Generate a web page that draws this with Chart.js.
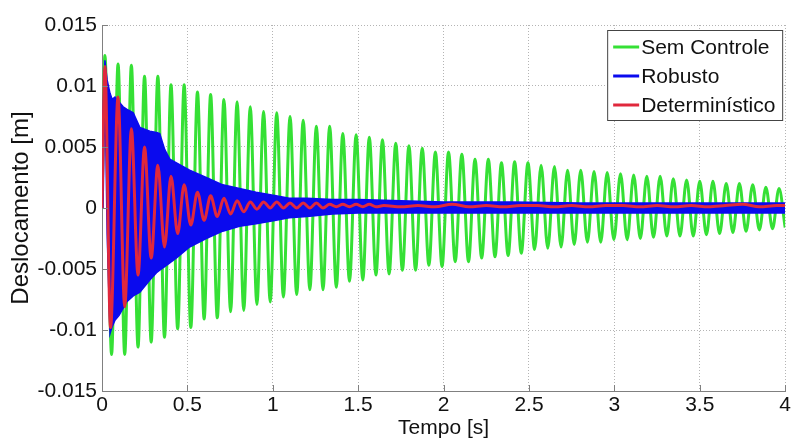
<!DOCTYPE html>
<html>
<head>
<meta charset="utf-8">
<title>Deslocamento x Tempo</title>
<script src="https://cdn.jsdelivr.net/npm/chart.js"></script>
<style>
  html, body { margin: 0; padding: 0; background: #fff; }
  canvas { display: block; }
</style>
</head>
<body>
<canvas id="deslocChart" width="793" height="441"></canvas>
<script>
// Axis ticks
const xTicks = [0, 0.5, 1, 1.5, 2, 2.5, 3, 3.5, 4];
const yTicks = [-0.015, -0.01, -0.005, 0, 0.005, 0.01, 0.015];

// Legend names and colours
const seriesNames = ['Sem Controle', 'Robusto', 'Determinístico'];
const seriesColors = ['#35e035', '#0a0aee', '#e0283c'];

// Sem Controle: peaks and valleys
const semCtrlPeakT = [0.017, 0.094, 0.172, 0.249, 0.327, 0.404, 0.481, 0.559, 0.636, 0.714,
  0.791, 0.868, 0.946, 1.023, 1.101, 1.178, 1.255, 1.333, 1.410, 1.488,
  1.565, 1.642, 1.720, 1.797, 1.875, 1.952, 2.029, 2.107, 2.184, 2.262,
  2.339, 2.416, 2.494, 2.571, 2.649, 2.726, 2.803, 2.881, 2.958, 3.036,
  3.113, 3.190, 3.268, 3.345, 3.423, 3.500, 3.577, 3.655, 3.732, 3.810,
  3.887, 3.964];
const semCtrlPeakY = [0.0125, 0.0118, 0.0117, 0.0108, 0.0108, 0.0101, 0.0101, 0.0095, 0.0093, 0.0089,
  0.0087, 0.0083, 0.0079, 0.0078, 0.0075, 0.0072, 0.0067, 0.0067, 0.0061, 0.0060,
  0.0058, 0.0056, 0.0053, 0.0051, 0.0049, 0.0046, 0.0046, 0.0044, 0.0040, 0.0040,
  0.0037, 0.0038, 0.0037, 0.0035, 0.0034, 0.0031, 0.0031, 0.0030, 0.0029, 0.0028,
  0.0027, 0.0026, 0.0026, 0.0024, 0.0023, 0.0022, 0.0022, 0.0020, 0.0020, 0.0019,
  0.0017, 0.0016];
const semCtrlValeT = [0.056, 0.133, 0.211, 0.288, 0.366, 0.443, 0.520, 0.598, 0.675, 0.753,
  0.830, 0.907, 0.985, 1.062, 1.140, 1.217, 1.294, 1.372, 1.449, 1.527,
  1.604, 1.681, 1.759, 1.836, 1.914, 1.991, 2.068, 2.146, 2.223, 2.301,
  2.378, 2.455, 2.533, 2.610, 2.688, 2.765, 2.842, 2.920, 2.997, 3.075,
  3.152, 3.229, 3.307, 3.384, 3.462, 3.539, 3.616, 3.694, 3.771, 3.849,
  3.926, 4.000];
const semCtrlValeY = [-0.0120, -0.0120, -0.0114, -0.0110, -0.0106, -0.0099, -0.0098, -0.0091, -0.0090, -0.0085,
  -0.0084, -0.0079, -0.0077, -0.0073, -0.0071, -0.0067, -0.0067, -0.0065, -0.0060, -0.0059,
  -0.0055, -0.0054, -0.0051, -0.0051, -0.0047, -0.0048, -0.0044, -0.0044, -0.0041, -0.0040,
  -0.0039, -0.0037, -0.0034, -0.0033, -0.0032, -0.0030, -0.0028, -0.0028, -0.0026, -0.0026,
  -0.0025, -0.0024, -0.0023, -0.0023, -0.0023, -0.0022, -0.0021, -0.0020, -0.0019, -0.0018,
  -0.0017, -0.0016];

// Robusto: dense oscillation, drawn as its upper and lower envelope
const blueT = [0, 0.006, 0.017, 0.030, 0.047, 0.060, 0.076, 0.100, 0.124, 0.144,
  0.183, 0.222, 0.280, 0.319, 0.338, 0.367, 0.397, 0.436, 0.513, 0.610,
  0.707, 0.805, 0.902, 1.019, 1.096, 1.200, 1.350, 1.500, 1.750, 2.000,
  2.400, 2.800, 3.200, 3.600, 4.000];
const blueHi = [0, 0.0080, 0.0121, 0.0105, 0.0094, 0.0089, 0.0091, 0.0087, 0.0083, 0.0081,
  0.0078, 0.0066, 0.0063, 0.0062, 0.0061, 0.0048, 0.0040, 0.0037, 0.0031, 0.0025,
  0.0019, 0.0016, 0.0013, 0.0010, 0.0008, 0.0008, 0.0007, 0.0007, 0.0006, 0.0005,
  0.0005, 0.0004, 0.0004, 0.0004, 0.0004];
const blueLo = [0, 0.0000, 0.0100, -0.0020, -0.0103, -0.0097, -0.0092, -0.0088, -0.0082, -0.0077,
  -0.0072, -0.0069, -0.0059, -0.0053, -0.0051, -0.0048, -0.0045, -0.0041, -0.0032, -0.0025,
  -0.0019, -0.0015, -0.0013, -0.0010, -0.0008, -0.0007, -0.0005, -0.0004, -0.0004, -0.0004,
  -0.0004, -0.0004, -0.0004, -0.0004, -0.0004];

// Determinístico: peaks, valleys, then the small tail
const redPeakT = [0.017, 0.094, 0.172, 0.249, 0.327, 0.404, 0.481, 0.559, 0.636, 0.714,
  0.791, 0.868, 0.946, 1.023, 1.101, 1.178, 1.255, 1.333, 1.410, 1.488, 1.565];
const redPeakY = [0.0116, 0.0091, 0.0065, 0.0050, 0.0035, 0.0026, 0.0019, 0.0013, 0.0010, 0.0008,
  0.0006, 0.0005, 0.0005, 0.0005, 0.0004, 0.0004, 0.0004, 0.0003, 0.0003, 0.0003, 0.0003];
const redValeT = [0.050, 0.133, 0.211, 0.288, 0.366, 0.443, 0.520, 0.598, 0.675, 0.753,
  0.830, 0.907, 0.985, 1.062, 1.140, 1.217, 1.294, 1.372, 1.449, 1.527, 1.604];
const redValeY = [-0.0098, -0.0081, -0.0055, -0.0041, -0.0032, -0.0021, -0.0014, -0.0010, -0.0007, -0.0005,
  -0.0003, -0.0001, 0.0000, 0.0000, 0.0000, 0.0000, 0.0000, 0.0001, 0.0001, 0.0001, 0.0001];
const redTailT = [1.65, 1.75, 1.85, 1.95, 2.05, 2.15, 2.25, 2.35, 2.45, 2.55,
  2.65, 2.75, 2.85, 2.95, 3.05, 3.15, 3.25, 3.35, 3.45, 3.55,
  3.65, 3.75, 3.85, 3.95, 4.00];
const redTailY = [0.0002, 0.0001, 0.0002, 0.0001, 0.0003, 0.0001, 0.0002, 0.0001, 0.0002, 0.0002,
  0.0001, 0.0002, 0.0001, 0.0002, 0.0002, 0.0001, 0.0002, 0.0001, 0.0002, 0.0001,
  0.0002, 0.0003, 0.0001, 0.0002, 0.0002];

const FONT = "'Liberation Sans', Arial, sans-serif";

// merge peaks and valleys in time order, starting from rest
function zigzag(peakT, peakY, valeT, valeY) {
  const pts = [{ x: 0, y: 0 }];
  for (let i = 0; i < peakT.length; i++) {
    pts.push({ x: peakT[i], y: peakY[i] });
    if (i < valeT.length) pts.push({ x: valeT[i], y: valeY[i] });
  }
  return pts;
}

function toPoints(ts, ys) {
  return ts.map((t, i) => ({ x: t, y: ys[i] }));
}

const semCtrlData = zigzag(semCtrlPeakT, semCtrlPeakY, semCtrlValeT, semCtrlValeY);
const redData = zigzag(redPeakT, redPeakY, redValeT, redValeY).concat(toPoints(redTailT, redTailY));

// legend box in the upper right corner of the plot
const legendBox = {
  id: 'legendBox',
  afterDraw(chart) {
    const ctx = chart.ctx;
    const { right, top } = chart.chartArea;
    const x0 = right - 178, y0 = top + 5, w = 175, h = 90;
    ctx.save();
    ctx.fillStyle = '#fff';
    ctx.fillRect(x0, y0, w, h);
    ctx.strokeStyle = '#444';
    ctx.lineWidth = 1;
    ctx.strokeRect(x0 + 0.5, y0 + 0.5, w, h);
    ctx.font = '21px ' + FONT;
    ctx.textBaseline = 'middle';
    ctx.textAlign = 'left';
    seriesNames.forEach((name, i) => {
      const y = y0 + 17 + i * 29;
      ctx.strokeStyle = seriesColors[i];
      ctx.lineWidth = 3;
      ctx.beginPath();
      ctx.moveTo(x0 + 6, y);
      ctx.lineTo(x0 + 32, y);
      ctx.stroke();
      ctx.fillStyle = '#111';
      ctx.fillText(name, x0 + 34, y + 1);
    });
    ctx.restore();
  }
};

// small tick marks pointing into the plot (matlab style)
const innerTicks = {
  id: 'innerTicks',
  afterDraw(chart) {
    const ctx = chart.ctx;
    const { left, bottom } = chart.chartArea;
    const xs = chart.scales.x, ys = chart.scales.y;
    ctx.save();
    ctx.strokeStyle = '#808080';
    ctx.lineWidth = 1;
    ctx.beginPath();
    xTicks.forEach(v => {
      const px = Math.round(xs.getPixelForValue(v)) + 0.5;
      ctx.moveTo(px, bottom);
      ctx.lineTo(px, bottom - 6);
    });
    yTicks.forEach(v => {
      const py = Math.round(ys.getPixelForValue(v)) + 0.5;
      ctx.moveTo(left, py);
      ctx.lineTo(left + 6, py);
    });
    ctx.stroke();
    ctx.restore();
  }
};

const fmt = v => String(+Number(v).toFixed(4));

new Chart(document.getElementById('deslocChart'), {
  type: 'line',
  data: {
    datasets: [
      {
        label: seriesNames[0],
        data: semCtrlData,
        borderColor: seriesColors[0],
        borderWidth: 3,
        cubicInterpolationMode: 'monotone',
        pointRadius: 0,
        fill: false,
        order: 3
      },
      {
        label: seriesNames[1],
        data: toPoints(blueT, blueHi),
        borderColor: seriesColors[1],
        backgroundColor: seriesColors[1],
        borderWidth: 1.5,
        pointRadius: 0,
        fill: '+1',
        order: 2
      },
      {
        label: seriesNames[1] + ' (inf)',
        data: toPoints(blueT, blueLo),
        borderColor: seriesColors[1],
        borderWidth: 1.5,
        pointRadius: 0,
        fill: false,
        order: 2
      },
      {
        label: seriesNames[2],
        data: redData,
        borderColor: seriesColors[2],
        borderWidth: 3,
        cubicInterpolationMode: 'monotone',
        pointRadius: 0,
        fill: false,
        order: 1
      }
    ]
  },
  options: {
    responsive: false,
    animation: false,
    events: [],
    layout: { padding: { top: 25, right: 5, left: 0, bottom: 0 } },
    plugins: {
      legend: { display: false },
      tooltip: { enabled: false }
    },
    scales: {
      x: {
        type: 'linear',
        min: 0,
        max: 4,
        afterBuildTicks: scale => { scale.ticks = xTicks.map(v => ({ value: v })); },
        afterFit: scale => { scale.height = 50; },
        ticks: {
          callback: fmt,
          color: '#111',
          font: { family: FONT, size: 21 },
          padding: 2,
          maxRotation: 0,
          autoSkip: false
        },
        grid: { color: '#b4b4b4', lineWidth: 1, drawTicks: false },
        border: { display: true, color: '#808080', width: 1, dash: [1, 2] },
        title: {
          display: true,
          text: 'Tempo [s]',
          color: '#111',
          font: { family: FONT, size: 21 },
          padding: { top: 0, bottom: 0 }
        }
      },
      y: {
        min: -0.015,
        max: 0.015,
        afterBuildTicks: scale => { scale.ticks = yTicks.map(v => ({ value: v })); },
        afterFit: scale => { scale.width = 102; },
        ticks: {
          callback: fmt,
          color: '#111',
          font: { family: FONT, size: 21 },
          padding: 5,
          autoSkip: false
        },
        grid: { color: '#b4b4b4', lineWidth: 1, drawTicks: false },
        border: { display: true, color: '#808080', width: 1, dash: [1, 2] },
        title: {
          display: true,
          text: 'Deslocamento [m]',
          color: '#111',
          font: { family: FONT, size: 24 },
          padding: { top: 7, bottom: 0 }
        }
      }
    }
  },
  plugins: [legendBox, innerTicks]
});
</script>
</body>
</html>
